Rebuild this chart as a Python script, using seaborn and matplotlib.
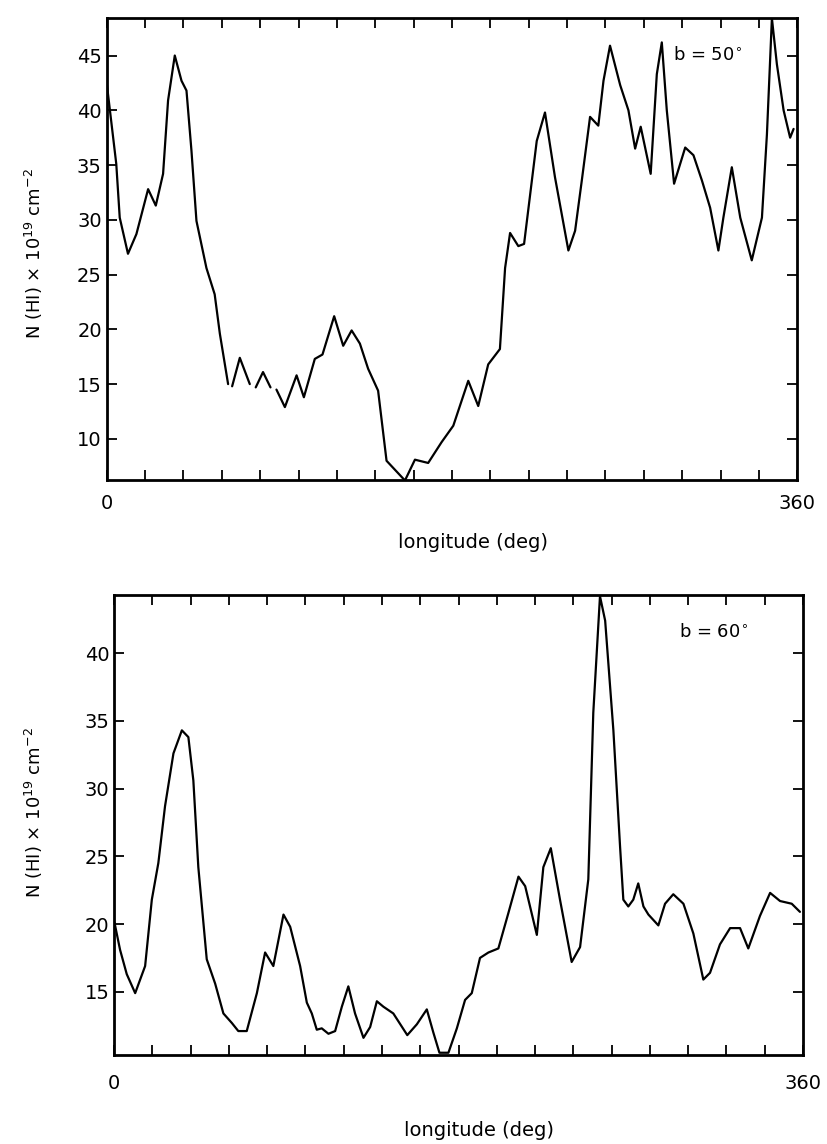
import numpy as np
import pandas as pd
import matplotlib
matplotlib.use("Agg")
import matplotlib.pyplot as plt
import seaborn as sns

# b = 50 deg profile (None marks a gap in the pen trace)
lon_b50 = [0, 5.0, 6.8, 11.1, 15.5, 21.6, 25.6, 29.4, 32.0, 35.5, 39.0, 41.6, 44.2,
           46.8, 52.0, 56.3, 59.0, 63.3, None,
           65.4, 69.4, 74.6, None,
           77.7, 81.5, 85.4, None,
           88.5, 92.9, 99.0, 102.8, 108.5, 112.5, 118.6, 123.3, 127.7, 132.0,
           136.3, 141.5, 145.9, 155.5, 160.7, 167.6, 174.6, 180.7, 188.5, 193.7,
           198.9, 205.0, 207.7, 210.3, 214.6, 217.6, 224.2, 228.5, 233.7, 240.7,
           244.2, 247.7, 252.0, 256.3, 259.0, 262.4, 267.7, 272.0, 275.5, 278.4,
           280.7, 283.6, 286.8, 289.4, 292.0, 295.8, 301.6, 305.9, 310.3, 314.6,
           318.9, 321.5, 325.9, 330.3, 336.3, 341.6, 344.2, 346.8, 349.4, 352.9,
           356.3, 358.1]
nh_b50 = [42.5, 35.1, 30.2, 26.9, 28.7, 32.8, 31.3, 34.2, 40.9, 45.0, 42.7, 41.8, 36.3,
          29.9, 25.6, 23.2, 19.6, 15.0, None,
          14.8, 17.4, 15.0, None,
          14.7, 16.1, 14.7, None,
          14.5, 12.9, 15.8, 13.8, 17.3, 17.7, 21.2, 18.5, 19.9, 18.7,
          16.4, 14.4, 8.0, 6.2, 8.1, 7.8, 9.7, 11.2, 15.3, 13.0,
          16.8, 18.2, 25.6, 28.8, 27.6, 27.8, 37.2, 39.8, 33.9, 27.2,
          29.0, 33.6, 39.4, 38.6, 42.7, 45.9, 42.3, 40.0, 36.5, 38.5,
          36.6, 34.2, 43.3, 46.2, 40.0, 33.3, 36.6, 35.9, 33.6, 31.1,
          27.2, 30.2, 34.8, 30.2, 26.3, 30.2, 37.8, 48.4, 44.2, 40.0,
          37.5, 38.3]

# b = 60 deg profile
lon_b60 = [0.2, 3.1, 6.6, 11.0, 16.2, 19.7, 23.1, 26.6, 31.0, 35.4, 38.8, 41.4, 44.0,
           48.4, 52.8, 57.1, 61.5, 64.9, 69.3, 74.6, 78.9, 83.2, 88.5, 92.0, 97.2,
           100.7, 103.3, 105.9, 108.5, 112.0, 115.5, 119.0, 122.4, 125.9, 130.3,
           133.8, 137.3, 140.7, 145.9, 153.2, 158.2, 163.4, 166.8, 170.0, 174.7,
           179.1, 183.4, 186.9, 191.2, 195.6, 200.8, 206.0, 211.3, 214.8, 220.9,
           224.3, 228.2, 233.0, 239.1, 243.5, 247.8, 250.4, 253.9, 256.6, 260.9,
           264.4, 266.1, 268.7, 271.3, 273.9, 276.6, 279.2, 284.4, 287.9, 292.2,
           297.5, 302.7, 307.9, 311.4, 316.6, 321.9, 327.1, 331.4, 337.5, 342.8,
           348.0, 354.1, 358.4]
nh_b60 = [20.1, 18.1, 16.3, 14.9, 16.9, 21.8, 24.5, 28.7, 32.6, 34.3, 33.8, 30.6, 24.2,
          17.4, 15.6, 13.4, 12.7, 12.1, 12.1, 14.9, 17.9, 16.9, 20.7, 19.8, 16.9,
          14.2, 13.4, 12.2, 12.3, 11.9, 12.1, 13.9, 15.4, 13.4, 11.6,
          12.4, 14.3, 13.9, 13.4, 11.8, 12.6, 13.7, 12.0, 10.5, 10.5,
          12.3, 14.4, 14.9, 17.5, 17.9, 18.2, 20.8, 23.5, 22.8, 19.2,
          24.2, 25.6, 21.8, 17.2, 18.3, 23.3, 35.6, 44.2, 42.4, 34.3,
          25.7, 21.8, 21.3, 21.8, 23.0, 21.3, 20.7, 19.9, 21.5, 22.2,
          21.5, 19.3, 15.9, 16.4, 18.5, 19.7, 19.7, 18.2, 20.6, 22.3,
          21.7, 21.5, 20.9]

yticks_b50 = [10, 15, 20, 25, 30, 35, 40, 45]
yticks_b60 = [15, 20, 25, 30, 35, 40]
xticks = list(range(0, 361, 20))


def to_frame(lon, nh):
    """Build a frame with a segment id, splitting on None gaps."""
    rows, seg = [], 0
    for x, y in zip(lon, nh):
        if x is None:
            seg += 1
            continue
        rows.append((x, y, seg))
    return pd.DataFrame(rows, columns=["lon", "nh", "seg"])


def style_axis(ax, ylim, yticks, label_text, ylab_x, ylab_y, xlab_y, xpad):
    ax.set_xlim(0, 360)
    ax.set_ylim(*ylim)
    ax.set_xticks(xticks)
    ax.set_xticklabels(["0"] + [""] * (len(xticks) - 2) + ["360"])
    ax.set_yticks(yticks)
    ax.tick_params(direction="in", length=7, width=1.3, top=True, right=True,
                   labelsize=14, colors="black")
    ax.tick_params(axis="x", pad=xpad)
    for sp in ax.spines.values():
        sp.set_visible(True)
        sp.set_linewidth(2)
        sp.set_color("black")
    ax.set_xlabel("longitude (deg)", fontsize=14, color="black")
    ax.set_ylabel(r"N (HI) $\times$ 10$^{19}$ cm$^{-2}$", fontsize=13, color="black")
    ax.xaxis.set_label_coords(0.53, xlab_y)
    ax.yaxis.set_label_coords(ylab_x, ylab_y)
    ax.text(0.87, 0.92, label_text, transform=ax.transAxes, fontsize=13,
            ha="center", va="center", color="black")


def main():
    sns.set_style("ticks")
    plt.rcParams["font.family"] = ["DejaVu Sans"]
    plt.rcParams["mathtext.fontset"] = "dejavusans"

    fig = plt.figure(figsize=(8.27, 11.44), dpi=100)
    ax1 = fig.add_axes([0.129, 0.580, 0.835, 0.404])
    ax2 = fig.add_axes([0.138, 0.078, 0.833, 0.402])

    df50 = to_frame(lon_b50, nh_b50)
    df60 = to_frame(lon_b60, nh_b60)

    sns.lineplot(data=df50, x="lon", y="nh", units="seg", estimator=None,
                 color="black", linewidth=1.6, sort=False, ax=ax1)
    sns.lineplot(data=df60, x="lon", y="nh", units="seg", estimator=None,
                 color="black", linewidth=1.6, sort=False, ax=ax2)

    style_axis(ax1, (6.2, 48.4), yticks_b50, r"b = 50$^{\circ}$",
               -0.09, 0.49, -0.113, 10)
    style_axis(ax2, (10.35, 44.3), yticks_b60, r"b = 60$^{\circ}$",
               -0.10, 0.526, -0.143, 14)

    fig.savefig("out.png", dpi=100, facecolor="white")


if __name__ == "__main__":
    main()
